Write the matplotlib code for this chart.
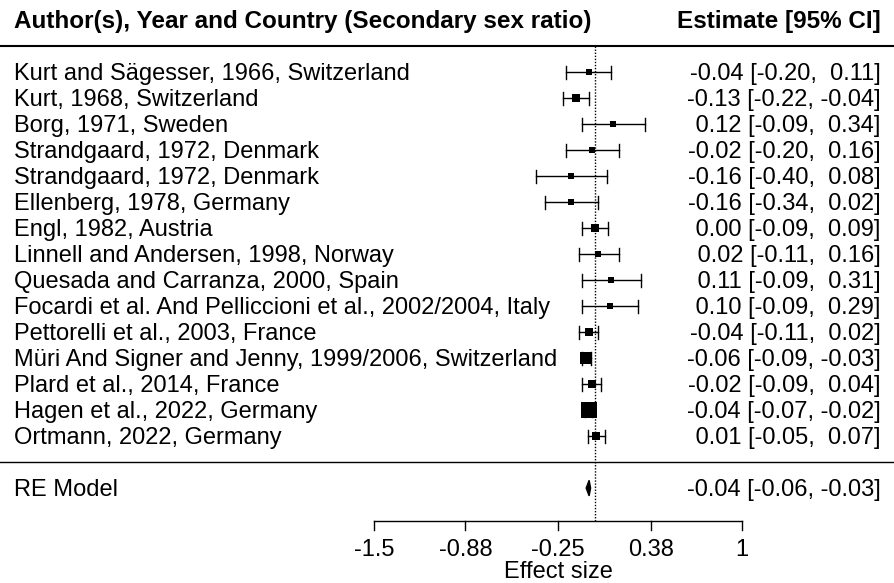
import matplotlib
matplotlib.use("Agg")
from matplotlib import pyplot as plt

plt.rcParams['font.family'] = ['Liberation Sans', 'DejaVu Sans']

studies = [
    "Kurt and Sägesser, 1966, Switzerland",
    "Kurt, 1968, Switzerland",
    "Borg, 1971, Sweden",
    "Strandgaard, 1972, Denmark",
    "Strandgaard, 1972, Denmark",
    "Ellenberg, 1978, Germany",
    "Engl, 1982, Austria",
    "Linnell and Andersen, 1998, Norway",
    "Quesada and Carranza, 2000, Spain",
    "Focardi et al. And Pelliccioni et al., 2002/2004, Italy",
    "Pettorelli et al., 2003, France",
    "Müri And Signer and Jenny, 1999/2006, Switzerland",
    "Plard et al., 2014, France",
    "Hagen et al., 2022, Germany",
    "Ortmann, 2022, Germany",
]
estimates = [-0.04, -0.13, 0.12, -0.02, -0.16, -0.16, 0.00, 0.02, 0.11, 0.10, -0.04, -0.06, -0.02, -0.04, 0.01]
ci_lower = [-0.20, -0.22, -0.09, -0.20, -0.40, -0.34, -0.09, -0.11, -0.09, -0.09, -0.11, -0.09, -0.09, -0.07, -0.05]
ci_upper = [0.11, -0.04, 0.34, 0.16, 0.08, 0.02, 0.09, 0.16, 0.31, 0.29, 0.02, -0.03, 0.04, -0.02, 0.07]
weights = [2.5, 7.4, 2.5, 3.2, 2.5, 2.5, 7.4, 3.9, 1.5, 1.5, 7.4, 17.9, 5.7, 28.4, 5.7]

re_est, re_lo, re_hi = -0.04, -0.06, -0.03
xticks = [-1.5, -0.88, -0.25, 0.38, 1]
xtick_labels = ["-1.5", "-0.88", "-0.25", "0.38", "1"]

fig = plt.figure(figsize=(8.94, 5.83), dpi=100)
ax = fig.add_axes([0, 0, 1, 1])
ax.set_xlim(-4.04, 2.03)
ax.set_ylim(-4.65, 17.77)
ax.axis('off')

fs = 17
va = 'center_baseline'
n = len(studies)
wmin, wmax = min(weights), max(weights)
axis_y = -2.27

for i in range(n):
    y = n - i
    ax.plot([ci_lower[i], ci_upper[i]], [y, y], color='black', lw=1)
    for xc in (ci_lower[i], ci_upper[i]):
        ax.plot([xc, xc], [y - 0.25, y + 0.25], color='black', lw=1)
    side_px = 5.3 + (weights[i] - wmin) / (wmax - wmin) * 11
    ax.plot(estimates[i], y, marker='s', color='black', ls='none',
            markersize=side_px * 0.72, markeredgewidth=0)
    ax.text(-3.945, y + 0.03, studies[i], fontsize=fs, ha='left', va=va)
    ax.text(1.937, y + 0.03, f"{estimates[i]:5.2f} [{ci_lower[i]:5.2f}, {ci_upper[i]:5.2f}]",
            fontsize=fs, ha='right', va=va)

# summary diamond
ax.fill([re_lo, re_est, re_hi, re_est], [-1, -1 + 0.3, -1, -1 - 0.3], color='black')
ax.text(-3.945, -0.97, "RE Model", fontsize=fs, ha='left', va=va)
ax.text(1.937, -0.97, f"{re_est:5.2f} [{re_lo:5.2f}, {re_hi:5.2f}]",
        fontsize=fs, ha='right', va=va)

# header and separators
ax.text(-3.945, 17.05, "Author(s), Year and Country (Secondary sex ratio)",
        fontsize=17.5, fontweight='bold', ha='left', va=va)
ax.text(1.937, 17.05, "Estimate [95% CI]", fontsize=17.5, fontweight='bold',
        ha='right', va=va)
ax.plot([-4.04, 2.03], [16, 16], color='black', lw=1.5)
ax.plot([-4.04, 2.03], [0, 0], color='black', lw=1)
ax.plot([0, 0], [axis_y, 16], color='black', lw=1, ls=(0, (1, 1.2)))

# x axis
ax.plot([xticks[0], xticks[-1]], [axis_y, axis_y], color='black', lw=1)
for xt, lab in zip(xticks, xtick_labels):
    ax.plot([xt, xt], [axis_y, axis_y - 0.35], color='black', lw=1)
    ax.text(xt, -3.27, lab, fontsize=fs, ha='center', va=va)
ax.text(-0.25, -4.12, "Effect size", fontsize=fs, ha='center', va=va)

fig.savefig("out.png", dpi=100)
